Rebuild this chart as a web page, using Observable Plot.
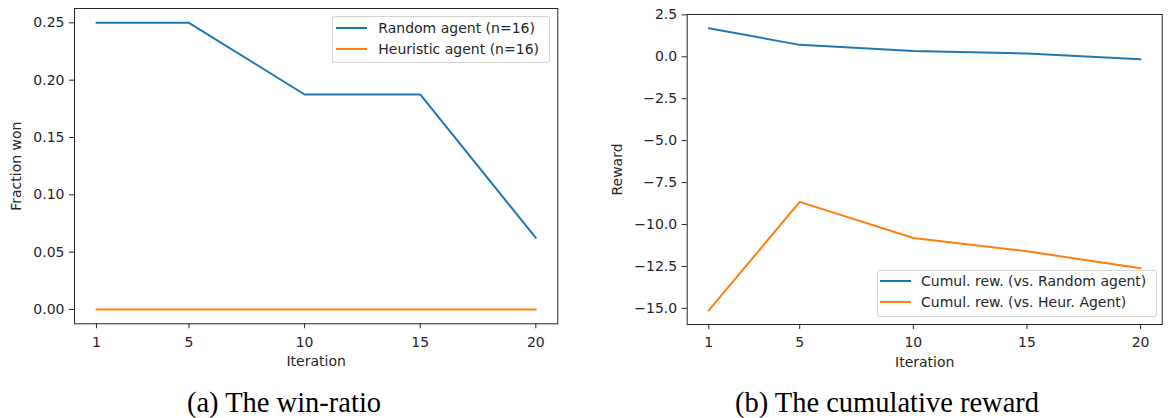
<!DOCTYPE html>
<html>
<head>
<meta charset="utf-8">
<script src="https://cdn.jsdelivr.net/npm/d3@7"></script>
<script src="https://cdn.jsdelivr.net/npm/@observablehq/plot@0.6"></script>
<style>
  html, body { margin: 0; padding: 0; background: #fff; }
  #page { position: relative; width: 1169px; height: 418px; overflow: hidden; font-family: "DejaVu Sans", sans-serif; color: #262626; }
  .panel { position: absolute; top: 0; }
  .legend { position: absolute; border: 1px solid #d3d3d3; border-radius: 3px; background: rgba(255,255,255,0.85); box-sizing: border-box; font-size: 14px; }
  .row { position: absolute; left: 0; right: 0; height: 16px; line-height: 16px; white-space: nowrap; }
  .sw { position: absolute; height: 2px; top: 7px; }
  .lt { position: absolute; top: 0; }
  .caption { position: absolute; font-family: "Liberation Serif", "Times New Roman", serif; font-size: 28.5px; color: #000; white-space: nowrap; transform: translateX(-50%); line-height: 30px; }
</style>
</head>
<body>
<div id="page"></div>
<script>
// ---- data ----
const iterations = [1, 5, 10, 15, 20];
const winRandom = [0.25, 0.25, 0.1875, 0.1875, 0.0625];
const winHeuristic = [0, 0, 0, 0, 0];
const rewardRandom = [1.7, 0.71, 0.35, 0.2, -0.15];
const rewardHeuristic = [-15.12, -8.65, -10.8, -11.6, -12.6];
const winLabels = ["Random agent (n=16)", "Heuristic agent (n=16)"];
const rewardLabels = ["Cumul. rew. (vs. Random agent)", "Cumul. rew. (vs. Heur. Agent)"];
const winTicks = [0, 0.05, 0.10, 0.15, 0.20, 0.25];
const rewardTicks = [2.5, 0, -2.5, -5, -7.5, -10, -12.5, -15];
const xLabel = "Iteration";
const yLabelWin = "Fraction won";
const yLabelReward = "Reward";
const captions = ["(a) The win-ratio", "(b) The cumulative reward"];
const colors = ["#1f77b4", "#ff7f0e"];

const toRows = (vals) => iterations.map((it, i) => ({iteration: it, value: vals[i]}));
const page = document.getElementById("page");
const ink = "#262626";

function panel({left, width, margins, yDomain, yTicks, yFormat, series, yLabel, yLabelDx}) {
  const [mt, mr, mb, ml] = margins;
  const chart = Plot.plot({
    width, height: 380,
    marginTop: mt, marginRight: mr, marginBottom: mb, marginLeft: ml,
    style: {fontFamily: "DejaVu Sans", fontSize: "14px", color: ink, background: "transparent", overflow: "visible"},
    x: {domain: [0.05, 20.95]},
    y: {domain: yDomain},
    marks: [
      Plot.axisX({ticks: iterations, tickFormat: d => String(d), tickSize: 5, tickPadding: 8, label: null, fontSize: 14}),
      Plot.axisY({ticks: yTicks, tickFormat: yFormat, tickSize: 5, tickPadding: 5, label: null, fontSize: 14}),
      ...series.map((vals, k) => Plot.line(toRows(vals), {x: "iteration", y: "value", stroke: colors[k], strokeWidth: 2})),
      Plot.frame({stroke: ink, strokeWidth: 1}),
      Plot.text([xLabel], {text: d => d, frameAnchor: "bottom", dy: 37.7, lineAnchor: "middle", fontSize: 14, fill: ink}),
      Plot.text([yLabel], {text: d => d, frameAnchor: "left", dx: yLabelDx, rotate: -90, textAnchor: "middle", lineAnchor: "middle", fontSize: 14, fill: ink})
    ]
  });
  const wrap = document.createElement("div");
  wrap.className = "panel";
  wrap.style.left = left + "px";
  wrap.appendChild(chart);
  page.appendChild(wrap);
}

panel({left: 0, width: 580, margins: [8, 22.7, 56.7, 74], yDomain: [-0.0125, 0.2625], yTicks: winTicks,
       yFormat: d3.format(".2f"), series: [winRandom, winHeuristic], yLabel: yLabelWin, yLabelDx: -58});
panel({left: 590, width: 579, margins: [14, 7.3, 56, 96.7], yDomain: [-15.96, 2.52], yTicks: rewardTicks,
       yFormat: d3.format(".1f"), series: [rewardRandom, rewardHeuristic], yLabel: yLabelReward, yLabelDx: -69.5});

function legend({left, top, width, height, labels, rowCenters, swLeft, swWidth, textLeft}) {
  const box = document.createElement("div");
  box.className = "legend";
  Object.assign(box.style, {left: left + "px", top: top + "px", width: width + "px", height: height + "px"});
  labels.forEach((lab, k) => {
    const row = document.createElement("div");
    row.className = "row";
    row.style.top = (rowCenters[k] - 8) + "px";
    const sw = document.createElement("span");
    sw.className = "sw";
    Object.assign(sw.style, {left: swLeft + "px", width: swWidth + "px", background: colors[k]});
    const t = document.createElement("span");
    t.className = "lt";
    t.style.left = textLeft + "px";
    t.textContent = lab;
    row.appendChild(sw); row.appendChild(t);
    box.appendChild(row);
  });
  page.appendChild(box);
}
legend({left: 331.7, top: 15.7, width: 218.3, height: 47.6, labels: winLabels, rowCenters: [11, 32.6], swLeft: 3.3, swWidth: 31.3, textLeft: 45.6});
legend({left: 876.7, top: 270, width: 280, height: 46.7, labels: rewardLabels, rowCenters: [10, 31.3], swLeft: 2.3, swWidth: 30.7, textLeft: 43.3});

[[284, captions[0]], [887, captions[1]]].forEach(([cx, txt]) => {
  const c = document.createElement("div");
  c.className = "caption";
  c.style.left = cx + "px";
  c.style.top = "388px";
  c.textContent = txt;
  page.appendChild(c);
});
</script>
</body>
</html>
